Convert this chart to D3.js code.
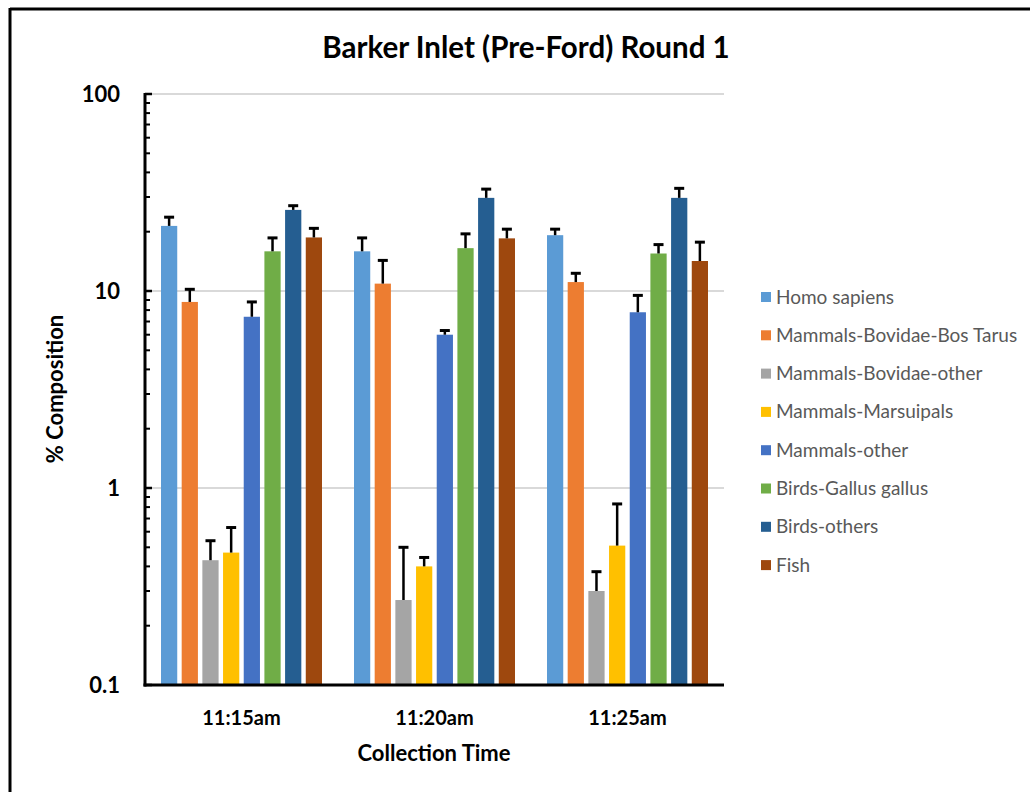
<!DOCTYPE html>
<html>
<head>
<meta charset="utf-8">
<script src="https://cdn.jsdelivr.net/npm/d3@7"></script>
<style>
  html, body { margin: 0; padding: 0; background: #fff; }
  svg { display: block; }
</style>
</head>
<body>
<svg id="chart" width="1030" height="792"></svg>
<script>
// Collection times along the x axis
const times = ["11:15am", "11:20am", "11:25am"];

// Taxon groups (series), in legend order
const taxa = [
  "Homo sapiens",
  "Mammals-Bovidae-Bos Tarus",
  "Mammals-Bovidae-other",
  "Mammals-Marsuipals",
  "Mammals-other",
  "Birds-Gallus gallus",
  "Birds-others",
  "Fish"
];

// Mean % composition per taxon, one value per collection time
const homoSapiens   = [21.4, 15.9, 19.2];
const bosTarus      = [8.8, 10.9, 11.1];
const bovidaeOther  = [0.43, 0.27, 0.30];
const marsupials    = [0.47, 0.40, 0.51];
const mammalsOther  = [7.4, 6.0, 7.8];
const gallusGallus  = [15.9, 16.5, 15.5];
const birdsOthers   = [25.8, 29.7, 29.7];
const fish          = [18.7, 18.5, 14.2];

// Standard deviation (upper error bar) per taxon
const homoSapiensSd  = [2.3, 2.7, 1.4];
const bosTarusSd     = [1.4, 3.4, 1.2];
const bovidaeOtherSd = [0.11, 0.23, 0.076];
const marsupialsSd   = [0.16, 0.044, 0.32];
const mammalsOtherSd = [1.4, 0.3, 1.7];
const gallusGallusSd = [2.7, 3.0, 1.7];
const birdsOthersSd  = [1.3, 3.2, 3.5];
const fishSd         = [2.1, 2.1, 3.5];

const yTicks = [0.1, 1, 10, 100];
const yTickLabels = ["0.1", "1", "10", "100"];

const seriesValues = [homoSapiens, bosTarus, bovidaeOther, marsupials, mammalsOther, gallusGallus, birdsOthers, fish];
const seriesErrors = [homoSapiensSd, bosTarusSd, bovidaeOtherSd, marsupialsSd, mammalsOtherSd, gallusGallusSd, birdsOthersSd, fishSd];
const colors = ["#5B9BD5", "#ED7D31", "#A5A5A5", "#FFC000", "#4472C4", "#70AD47", "#255E91", "#9E480E"];

const svg = d3.select("#chart");
const font = "Lato, 'Open Sans', sans-serif";

// Outer frame (top and left edges)
svg.append("line").attr("x1", 10).attr("x2", 1030).attr("y1", 9).attr("y2", 9)
  .attr("stroke", "#000").attr("stroke-width", 3);
svg.append("line").attr("x1", 10).attr("x2", 10).attr("y1", 8).attr("y2", 792)
  .attr("stroke", "#000").attr("stroke-width", 3);

const plot = { left: 145, right: 724, top: 94, bottom: 685 };

const x0 = d3.scaleBand().domain(times).range([plot.left, plot.right]);
const x1 = d3.scaleBand().domain(taxa).range([-80.5, 80.5]).paddingInner(0.215);
const y = d3.scaleLog().domain([0.1, 100]).range([plot.bottom, plot.top]);

// Horizontal gridlines at each decade
svg.append("g").selectAll("line").data([1, 10, 100]).join("line")
  .attr("x1", plot.left).attr("x2", plot.right)
  .attr("y1", d => y(d)).attr("y2", d => y(d))
  .attr("stroke", "#d9d9d9").attr("stroke-width", 2);

// Bars
const groups = svg.append("g").selectAll("g").data(times).join("g")
  .attr("transform", t => `translate(${x0(t) + x0.bandwidth() / 2},0)`);

const barData = (t, i) => taxa.map((name, s) => ({
  name, s, v: seriesValues[s][i], e: seriesErrors[s][i]
}));

groups.each(function (t, i) {
  const g = d3.select(this);
  const data = barData(t, i);
  g.selectAll("rect").data(data).join("rect")
    .attr("x", d => x1(d.name))
    .attr("width", x1.bandwidth())
    .attr("y", d => y(d.v))
    .attr("height", d => y(0.1) - y(d.v))
    .attr("fill", d => colors[d.s]);

  // Upper error bars
  const eb = g.selectAll("g.err").data(data).join("g").attr("class", "err");
  eb.append("line")
    .attr("x1", d => x1(d.name) + x1.bandwidth() / 2)
    .attr("x2", d => x1(d.name) + x1.bandwidth() / 2)
    .attr("y1", d => y(d.v))
    .attr("y2", d => y(d.v + d.e))
    .attr("stroke", "#000").attr("stroke-width", 2.5);
  eb.append("line")
    .attr("x1", d => x1(d.name) + x1.bandwidth() / 2 - 5)
    .attr("x2", d => x1(d.name) + x1.bandwidth() / 2 + 5)
    .attr("y1", d => y(d.v + d.e))
    .attr("y2", d => y(d.v + d.e))
    .attr("stroke", "#000").attr("stroke-width", 3);
});

// Y axis: minor ticks inside, labels bold on the left
const minor = [];
for (let dec = 0.1; dec < 100; dec *= 10) {
  for (let k = 2; k <= 9; k++) minor.push(+(dec * k).toPrecision(3));
}
svg.append("g").selectAll("line").data(minor).join("line")
  .attr("x1", plot.left).attr("x2", plot.left + 5)
  .attr("y1", d => y(d)).attr("y2", d => y(d))
  .attr("stroke", "#000").attr("stroke-width", 2);
svg.append("g").selectAll("line").data(yTicks).join("line")
  .attr("x1", plot.left).attr("x2", plot.left + 7)
  .attr("y1", d => y(d)).attr("y2", d => y(d))
  .attr("stroke", "#000").attr("stroke-width", 2.5);
svg.append("line").attr("x1", plot.left).attr("x2", plot.left)
  .attr("y1", plot.top - 1).attr("y2", plot.bottom + 1.5)
  .attr("stroke", "#000").attr("stroke-width", 3);

svg.append("g").selectAll("text").data(yTicks).join("text")
  .attr("x", 120).attr("y", d => y(d) + 7.5)
  .attr("text-anchor", "end")
  .attr("font-family", font).attr("font-weight", "bold").attr("font-size", 22)
  .attr("fill", "#000")
  .text((d, i) => yTickLabels[i]);

// X axis line and category labels
svg.append("line").attr("x1", plot.left - 1.5).attr("x2", plot.right)
  .attr("y1", plot.bottom).attr("y2", plot.bottom)
  .attr("stroke", "#000").attr("stroke-width", 3);

svg.append("g").selectAll("text").data(times).join("text")
  .attr("x", t => x0(t) + x0.bandwidth() / 2)
  .attr("y", 725)
  .attr("text-anchor", "middle")
  .attr("font-family", font).attr("font-weight", "bold").attr("font-size", 20)
  .attr("fill", "#000")
  .text(t => t);

// Axis titles
svg.append("text")
  .attr("x", 434).attr("y", 761)
  .attr("text-anchor", "middle")
  .attr("font-family", font).attr("font-weight", "bold").attr("font-size", 22)
  .text("Collection Time");

svg.append("text")
  .attr("transform", "translate(63,389) rotate(-90)")
  .attr("text-anchor", "middle")
  .attr("font-family", font).attr("font-weight", "bold").attr("font-size", 22)
  .text("% Composition");

// Chart title
svg.append("text")
  .attr("x", 526).attr("y", 58)
  .attr("text-anchor", "middle")
  .attr("font-family", font).attr("font-weight", "bold").attr("font-size", 29.5)
  .text("Barker Inlet (Pre-Ford) Round 1");

// Legend
const legend = svg.append("g").selectAll("g").data(taxa).join("g")
  .attr("transform", (d, i) => `translate(761,${297 + i * 38.3})`);
legend.append("rect")
  .attr("x", 0).attr("y", -5).attr("width", 10).attr("height", 10)
  .attr("fill", (d, i) => colors[i]);
legend.append("text")
  .attr("x", 15).attr("y", 6.5)
  .attr("font-family", font).attr("font-size", 19)
  .attr("fill", "#595959")
  .text(d => d);
</script>
</body>
</html>
